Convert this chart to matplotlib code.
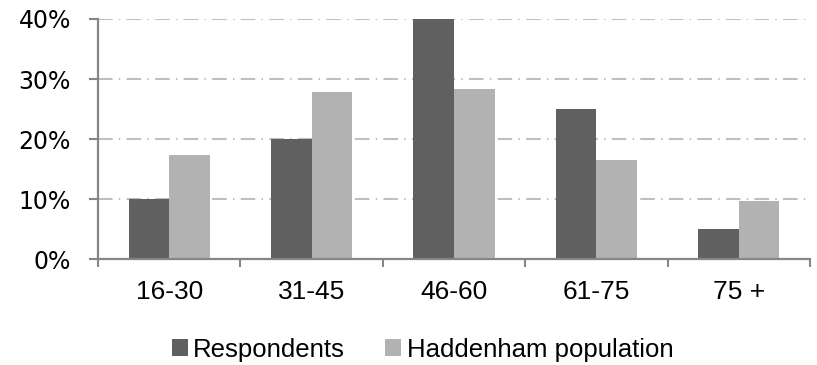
import matplotlib.pyplot as plt
import numpy as np
from matplotlib.ticker import FixedLocator, NullFormatter

# data
age_groups = ['16-30', '31-45', '46-60', '61-75', '75 +']
respondents = [10, 20, 40, 25, 5]
haddenham = [17.3, 27.8, 28.4, 16.5, 9.7]
y_ticks = [0, 10, 20, 30, 40]

dark = '#606060'
light = '#b2b2b2'
axis_col = '#868686'

fig = plt.figure(figsize=(8.17, 3.65), dpi=100)
ax = fig.add_axes([0.12, 0.29, 0.8714, 0.658])

x = np.arange(len(age_groups))
w = 0.285
ax.bar(x - w / 2, respondents, w, color=dark, label='Respondents', zorder=3)
ax.bar(x + w / 2, haddenham, w, color=light, label='Haddenham population', zorder=3)

ax.set_xlim(-0.5, len(age_groups) - 0.5)
ax.set_ylim(0, 40)
ax.set_yticks(y_ticks)
ax.set_yticklabels([f'{v}%' for v in y_ticks], fontsize=17, family='DejaVu Sans')

ax.set_xticks(x)
ax.set_xticklabels(age_groups, fontsize=19, family=['Liberation Sans', 'DejaVu Sans'])
ax.tick_params(axis='x', which='major', length=0, pad=15)
ax.xaxis.set_minor_locator(FixedLocator(np.arange(-0.5, len(age_groups), 1)))
ax.xaxis.set_minor_formatter(NullFormatter())
ax.tick_params(axis='x', which='minor', length=6, width=1.5, color=axis_col)
ax.tick_params(axis='y', length=6.5, width=1.5, color=axis_col, pad=13)

ax.yaxis.grid(True, color='#bfbfbf', linestyle=(0, (7, 3, 0.7, 3)), linewidth=1.5, zorder=0)
for s in ['top', 'right']:
    ax.spines[s].set_visible(False)
for s in ['left', 'bottom']:
    ax.spines[s].set_color(axis_col)
    ax.spines[s].set_linewidth(1.6)
    ax.spines[s].set_zorder(4)

fig.legend(loc='center', bbox_to_anchor=(0.517, 0.042), ncol=2, frameon=False,
           prop={'family': ['Liberation Sans', 'DejaVu Sans'], 'size': 18.5},
           handlelength=0.62, handleheight=0.62, handletextpad=0.22, columnspacing=1.55)

fig.savefig('out.png', dpi=100)
